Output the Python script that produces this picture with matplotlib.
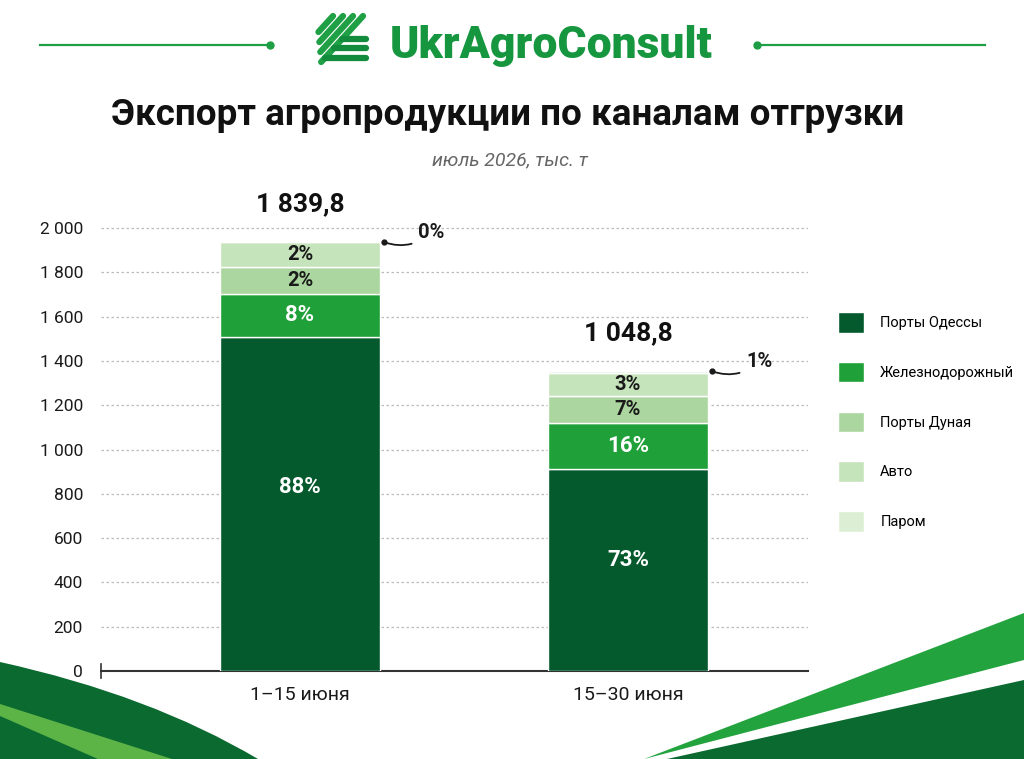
import matplotlib
matplotlib.use('Agg')
import matplotlib.pyplot as plt
from matplotlib.patches import Polygon, PathPatch
from matplotlib.path import Path
from matplotlib.ticker import FuncFormatter

plt.rcParams['font.family'] = ['Roboto', 'DejaVu Sans']

# data (thousand t)
periods = ['1–15 июня', '15–30 июня']
channels = ['Порты Одессы', 'Железнодорожный', 'Порты Дуная', 'Авто', 'Паром']
odessa = [1510, 912]
rail = [192, 208]
danube = [122, 122]
auto = [113, 103]
ferry = [0, 9]
totals = ['1 839,8', '1 048,8']

odessa_pct = ['88%', '73%']
rail_pct = ['8%', '16%']
danube_pct = ['2%', '7%']
auto_pct = ['2%', '3%']
ferry_pct = ['0%', '1%']

colors = ['#055a2d', '#20a038', '#abd69f', '#c6e4bc', '#dcefd5']
text_colors = ['white', 'white', '#1a1a1a', '#1a1a1a', '#1a1a1a']

W, H = 1024, 759
fig = plt.figure(figsize=(W / 100, H / 100), dpi=100)
fig.patch.set_facecolor('white')

# decoration layer in pixel coordinates
deco = fig.add_axes([0, 0, 1, 1], zorder=0)
deco.set_xlim(0, W)
deco.set_ylim(H, 0)
deco.axis('off')

# bottom left swoosh
verts = [(0, 662), (150, 695), (258, 759), (0, 759), (0, 662)]
codes = [Path.MOVETO, Path.CURVE3, Path.CURVE3, Path.LINETO, Path.CLOSEPOLY]
deco.add_patch(PathPatch(Path(verts, codes), facecolor='#0b6a30', edgecolor='none'))
deco.add_patch(Polygon([(0, 704), (172, 759), (98, 759), (0, 716)], closed=True,
                       facecolor='#5db446', edgecolor='none'))
# bottom right wedges
deco.add_patch(Polygon([(644, 759), (1024, 613), (1024, 660)], closed=True,
                       facecolor='#22a33e', edgecolor='none'))
deco.add_patch(Polygon([(667, 759), (1024, 680), (1024, 759)], closed=True,
                       facecolor='#0b6a30', edgecolor='none'))

# header lines with dots
deco.plot([40, 270], [45, 45], color='#1e9e45', lw=1.6)
deco.plot([270], [45], 'o', color='#1e9e45', ms=5)
deco.plot([757, 985], [45, 45], color='#1e9e45', lw=1.6)
deco.plot([757], [45], 'o', color='#1e9e45', ms=5)

# logo icon
for tx, by in [(333, 32), (343, 42), (353, 52), (363, 62)]:
    bx = tx - (by - 16) / 1.1
    deco.plot([bx, tx], [by, 16], color='#1fa045', lw=4.5, solid_capstyle='round')
for y in [39, 48, 58]:
    x0 = 363 - (y - 16) / 1.1
    deco.plot([x0, 366], [y, y], color='#128c3c', lw=4.5, solid_capstyle='round')

fig.text(551 / W, 1 - 46 / H, 'UkrAgroConsult', ha='center', va='center',
         fontsize=32, fontweight='black', color='#16963f')

fig.text(508 / W, 1 - 115 / H, 'Экспорт агропродукции по каналам отгрузки',
         ha='center', va='center', fontsize=26.5, fontweight='bold', color='#111111')
fig.text(510 / W, 1 - 160 / H, 'июль 2026, тыс. т', ha='center', va='center',
         fontsize=14, style='italic', color='#666666')

# main chart
ax = fig.add_axes([101 / W, 1 - 671 / H, 707 / W, (671 - 217) / H], zorder=2)
ax.patch.set_alpha(0)
ax.set_xlim(-0.607, 1.549)
ax.set_ylim(0, 2050)

series = [odessa, rail, danube, auto, ferry]
pcts = [odessa_pct, rail_pct, danube_pct, auto_pct, ferry_pct]
x = [0, 1]
bottom = [0, 0]
for vals, col, name in zip(series, colors, channels):
    ax.bar(x, vals, bottom=bottom, width=0.49, color=col, edgecolor='white',
           linewidth=1, label=name, zorder=3)
    bottom = [b + v for b, v in zip(bottom, vals)]

# labels inside segments
for i in range(2):
    base = 0
    for k in range(4):
        v = series[k][i]
        frac = 0.55 if k == 0 else 0.5
        size = 16 if k < 2 else 14.5
        ax.text(x[i], base + v * frac, pcts[k][i], ha='center', va='center',
                fontsize=size, fontweight='bold', color=text_colors[k], zorder=4)
        base += v

# ferry callouts
for i in range(2):
    top = bottom[i]
    xr = x[i] + 0.245
    ax.plot([xr + 0.01], [top], 'o', color='#1a1a1a', ms=3.5, zorder=5)
    ax.annotate(ferry_pct[i], xy=(xr + 0.01, top), xytext=(25, 7),
                textcoords='offset points', ha='left', va='center',
                fontsize=14.5, fontweight='bold', color='#1a1a1a',
                arrowprops=dict(arrowstyle='-', color='#1a1a1a', lw=1.3,
                                shrinkA=3, shrinkB=0,
                                connectionstyle='arc3,rad=-0.3'))

# totals above bars
for i in range(2):
    ax.annotate(totals[i], xy=(x[i], bottom[i]), xytext=(0, 27),
                textcoords='offset points', ha='center', va='center',
                fontsize=19, fontweight='bold', color='#111111')

ax.set_yticks(range(0, 2001, 200))
ax.yaxis.set_major_formatter(FuncFormatter(lambda v, p: f'{int(v):,}'.replace(',', ' ')))
ax.set_xticks(x)
ax.set_xticklabels(periods)
ax.tick_params(axis='y', length=0, pad=13, labelsize=12.5, labelcolor='#1a1a1a')
ax.tick_params(axis='x', length=0, pad=11, labelsize=14, labelcolor='#1a1a1a')
ax.grid(axis='y', color='#bbbbbb', linestyle=(0, (2, 2)), linewidth=0.9, zorder=0)
for s in ['top', 'right', 'left']:
    ax.spines[s].set_visible(False)
ax.spines['bottom'].set_color('#333333')
ax.spines['bottom'].set_linewidth(1.5)
ax.plot([-0.607, -0.607], [-30, 30], color='#333333', lw=1.2, clip_on=False)

ax.legend(loc='upper left', bbox_to_anchor=(838 / W, 1 - 312 / H),
          bbox_transform=fig.transFigure, frameon=False, fontsize=10.5,
          handlelength=1.8, handleheight=1.8, labelspacing=2.0,
          handletextpad=1.1, borderpad=0, borderaxespad=0)

fig.savefig('out.png', dpi=100)
